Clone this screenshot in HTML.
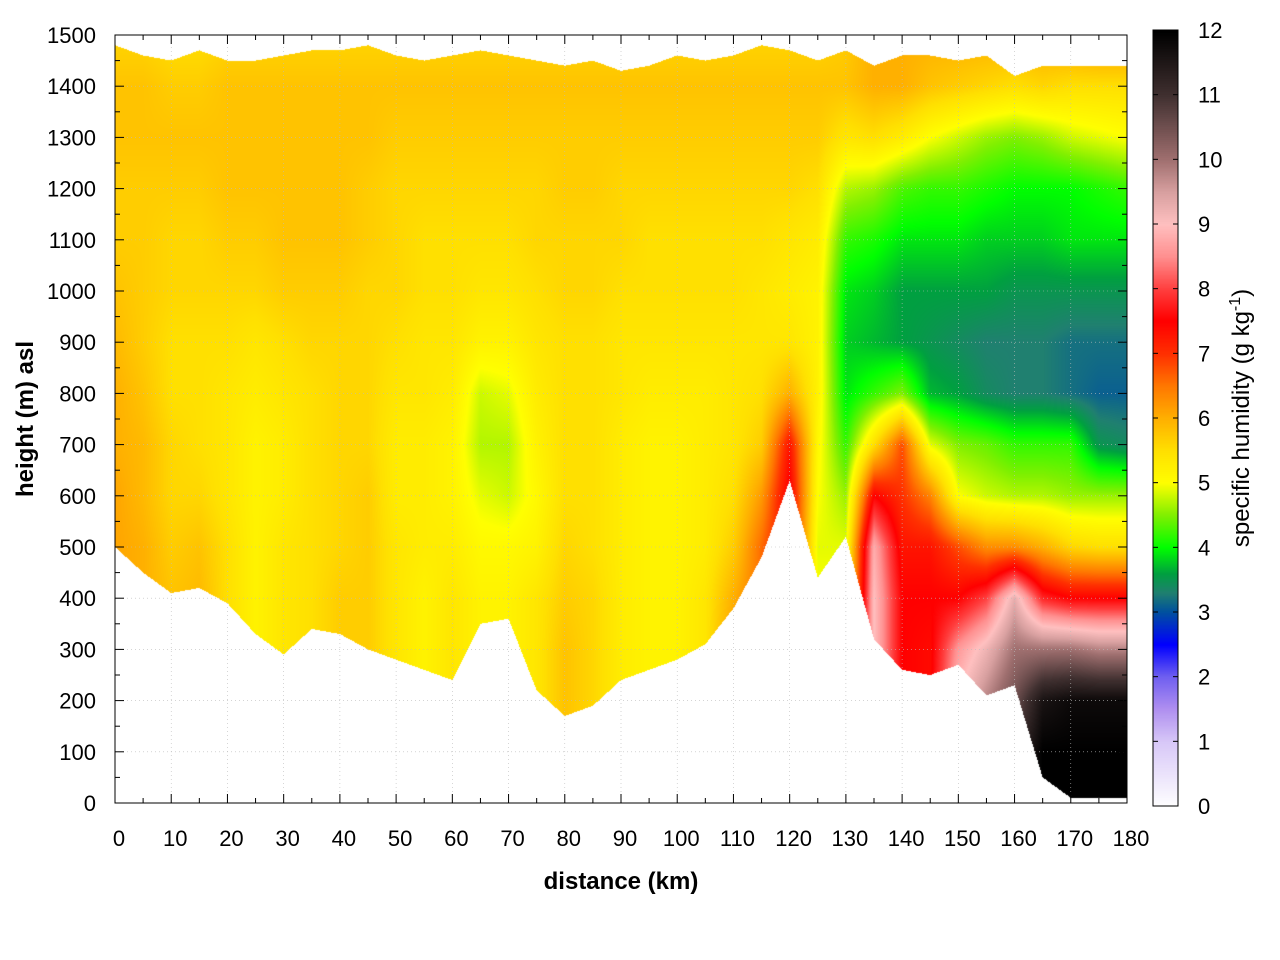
<!DOCTYPE html>
<html><head><meta charset="utf-8"><style>
body{margin:0;background:#fff;width:1280px;height:960px;overflow:hidden;position:relative;font-family:"Liberation Sans",sans-serif}
canvas{position:absolute}
svg{position:absolute;left:0;top:0}
</style></head><body>
<canvas id="hm" width="1012" height="768" style="left:115px;top:35px"></canvas>
<canvas id="cb" width="25" height="776" style="left:1153px;top:30px"></canvas>
<svg id="ax" width="1280" height="960"></svg>
<script>
// distance columns every 5 km
const distances=[0,5,10,15,20,25,30,35,40,45,50,55,60,65,70,75,80,85,90,95,100,105,110,115,120,125,130,135,140,145,150,155,160,165,170,175,180];
const heights=[0,100,200,300,400,500,600,700,800,900,1000,1100,1200,1300,1400,1500];
const terrain=[500,450,410,420,390,330,290,340,330,300,280,260,240,350,360,220,170,190,240,260,280,310,380,480,630,440,520,320,260,250,270,210,230,50,10,10,10];
const topEdge=[1480,1460,1450,1470,1450,1450,1460,1470,1470,1480,1460,1450,1460,1470,1460,1450,1440,1450,1430,1440,1460,1450,1460,1480,1470,1450,1470,1440,1460,1460,1450,1460,1420,1440,1440,1440,1440];
// humidity (g/kg) per column, from 0 m to 1500 m
const humidity=[
[6.1,6.1,6.1,6.1,6.1,6.1,6.1,6.0,6.0,5.9,5.8,5.7,5.7,5.8,5.8,5.6],
[6.0,6.0,6.0,6.0,6.0,6.0,5.9,5.9,5.8,5.7,5.7,5.7,5.7,5.8,5.8,5.6],
[5.8,5.8,5.8,5.8,5.8,5.7,5.6,5.6,5.5,5.5,5.6,5.6,5.7,5.8,5.7,5.5],
[5.9,5.9,5.9,5.9,5.9,5.8,5.6,5.5,5.5,5.5,5.6,5.6,5.7,5.8,5.7,5.5],
[5.5,5.5,5.5,5.5,5.5,5.5,5.4,5.4,5.4,5.5,5.6,5.7,5.8,5.8,5.8,5.6],
[5.2,5.2,5.2,5.2,5.2,5.2,5.2,5.2,5.3,5.4,5.6,5.7,5.8,5.8,5.8,5.6],
[5.4,5.4,5.4,5.4,5.4,5.4,5.3,5.3,5.4,5.5,5.7,5.8,5.8,5.8,5.8,5.6],
[5.5,5.5,5.5,5.5,5.5,5.5,5.5,5.5,5.5,5.6,5.7,5.8,5.8,5.8,5.8,5.6],
[5.7,5.7,5.7,5.7,5.7,5.6,5.6,5.6,5.6,5.6,5.7,5.8,5.8,5.8,5.8,5.6],
[5.7,5.7,5.7,5.7,5.7,5.7,5.7,5.6,5.6,5.6,5.6,5.7,5.7,5.8,5.8,5.6],
[5.4,5.4,5.4,5.4,5.4,5.4,5.3,5.3,5.4,5.5,5.6,5.6,5.6,5.7,5.8,5.6],
[5.2,5.2,5.2,5.2,5.2,5.3,5.3,5.3,5.4,5.4,5.5,5.5,5.6,5.7,5.8,5.6],
[5.4,5.4,5.4,5.4,5.4,5.3,5.2,5.2,5.3,5.4,5.5,5.5,5.6,5.7,5.8,5.6],
[5.2,5.2,5.2,5.2,5.2,5.1,4.9,4.7,4.8,5.2,5.4,5.5,5.6,5.7,5.8,5.6],
[5.2,5.2,5.2,5.2,5.2,5.1,4.8,4.7,4.9,5.2,5.4,5.5,5.6,5.7,5.8,5.6],
[5.4,5.4,5.4,5.4,5.4,5.2,5.1,5.2,5.3,5.4,5.5,5.6,5.6,5.7,5.8,5.6],
[5.8,5.8,5.8,5.8,5.7,5.6,5.5,5.5,5.5,5.5,5.6,5.6,5.7,5.7,5.8,5.6],
[5.6,5.6,5.6,5.6,5.6,5.5,5.5,5.5,5.5,5.5,5.6,5.6,5.7,5.7,5.8,5.6],
[5.3,5.3,5.3,5.3,5.3,5.3,5.3,5.3,5.4,5.4,5.5,5.6,5.6,5.7,5.8,5.6],
[5.2,5.2,5.2,5.2,5.2,5.2,5.2,5.2,5.3,5.4,5.5,5.5,5.6,5.7,5.8,5.6],
[5.2,5.2,5.2,5.2,5.2,5.2,5.2,5.2,5.3,5.4,5.5,5.5,5.6,5.7,5.8,5.6],
[5.4,5.4,5.4,5.4,5.4,5.3,5.3,5.3,5.3,5.4,5.5,5.5,5.6,5.7,5.8,5.6],
[6.2,6.2,6.2,6.2,6.0,5.7,5.5,5.4,5.4,5.4,5.5,5.5,5.6,5.7,5.8,5.6],
[6.6,6.6,6.6,6.6,6.6,6.6,6.2,5.7,5.5,5.4,5.4,5.5,5.6,5.7,5.8,5.6],
[7.5,7.5,7.5,7.5,7.5,7.5,7.6,7.3,6.0,5.4,5.3,5.4,5.6,5.7,5.8,5.6],
[5.0,5.0,5.0,5.0,5.0,4.9,5.0,5.1,5.2,5.2,5.2,5.3,5.5,5.7,5.8,5.6],
[5.0,5.0,5.0,5.0,5.0,4.9,4.6,4.2,3.9,3.8,3.9,4.2,4.7,5.4,5.8,5.7],
[8.8,8.8,8.8,9.0,9.0,8.8,7.5,5.5,4.2,3.7,3.8,4.1,4.6,5.5,6.0,6.0],
[7.5,7.5,7.5,7.5,7.5,7.3,7.0,6.8,4.5,3.6,3.6,3.9,4.3,5.3,6.0,6.0],
[7.4,7.4,7.4,7.4,7.5,7.3,6.4,4.9,3.7,3.5,3.6,3.9,4.2,5.0,5.8,6.0],
[9.0,9.0,9.0,8.6,7.5,6.8,5.0,4.5,3.6,3.4,3.6,3.9,4.2,4.8,5.7,6.0],
[10.0,10.0,9.8,9.2,8.0,6.3,4.8,4.4,3.4,3.3,3.6,3.8,4.1,4.6,5.6,6.0],
[11.0,11.0,10.5,10.0,9.3,6.3,4.7,4.2,3.3,3.3,3.5,3.8,4.0,4.5,5.5,6.0],
[12.0,12.0,11.6,10.0,7.8,6.0,4.7,4.2,3.3,3.3,3.5,3.8,4.0,4.6,5.6,6.1],
[12.0,12.0,11.8,10.0,7.5,5.6,4.6,4.2,3.2,3.2,3.5,3.9,4.0,4.8,5.5,6.2],
[12.0,12.0,11.8,9.8,7.5,5.5,4.6,3.5,3.1,3.2,3.5,3.9,4.1,4.9,5.5,6.3],
[12.0,12.0,11.8,9.8,7.5,5.5,4.6,3.4,3.1,3.2,3.5,3.9,4.2,5.0,5.5,6.3]];
const xTicks=[0,10,20,30,40,50,60,70,80,90,100,110,120,130,140,150,160,170,180];
const yTicks=[0,100,200,300,400,500,600,700,800,900,1000,1100,1200,1300,1400,1500];
const cbTicks=[0,1,2,3,4,5,6,7,8,9,10,11,12];

const stops=[[0,'#ffffff'],[1,'#d8c8f8'],[1.5,'#b090f0'],[2,'#7060f0'],[2.5,'#0000ff'],[3,'#0050a0'],[3.3,'#208070'],[3.6,'#00a040'],[4,'#00ff00'],[4.5,'#80f000'],[5,'#ffff00'],[5.5,'#ffe000'],[6,'#ffb000'],[6.5,'#ff7800'],[7,'#ff3000'],[7.5,'#ff0000'],[8,'#ff4040'],[8.5,'#ff9090'],[9,'#ffc0c0'],[9.5,'#d8a0a0'],[10,'#a07070'],[10.5,'#705050'],[11,'#403030'],[12,'#000000']];
const sRGB=stops.map(s=>[s[0],parseInt(s[1].slice(1,3),16),parseInt(s[1].slice(3,5),16),parseInt(s[1].slice(5,7),16)]);
function col(v){v=Math.max(0,Math.min(12,v));for(let i=1;i<sRGB.length;i++){if(v<=sRGB[i][0]){const a=sRGB[i-1],b=sRGB[i],t=(v-a[0])/(b[0]-a[0]);return [a[1]+(b[1]-a[1])*t,a[2]+(b[2]-a[2])*t,a[3]+(b[3]-a[3])*t];}}return [0,0,0];}
const X0=115,X1=1127,Y0=803,Y1=35;
const xs=d=>X0+d*(X1-X0)/180, ys=h=>Y0-h*(Y0-Y1)/1500;
function lerpArr(arr,d){const f=d/5,i=Math.min(35,Math.floor(f)),t=f-i;return arr[i]*(1-t)+arr[i+1]*t;}
// heatmap
const hm=document.getElementById('hm'),hc=hm.getContext('2d'),img=hc.createImageData(1012,768);
for(let px=0;px<1012;px++){const d=(px+0.5)/1012*180;const bot=lerpArr(terrain,d),top=lerpArr(topEdge,d);
 const f=d/5,i=Math.min(35,Math.floor(f)),t=f-i;
 for(let py=0;py<768;py++){const h=(768-py-0.5)/768*1500;if(h<bot||h>top)continue;
  const g=Math.min(14.999,h/100),j=Math.floor(g),u=g-j;
  const v=(humidity[i][j]*(1-u)+humidity[i][j+1]*u)*(1-t)+(humidity[i+1][j]*(1-u)+humidity[i+1][j+1]*u)*t;
  const c=col(v),k=(py*1012+px)*4;img.data[k]=c[0];img.data[k+1]=c[1];img.data[k+2]=c[2];img.data[k+3]=255;}}
hc.putImageData(img,0,0);
// colorbar
const cb=document.getElementById('cb'),cc=cb.getContext('2d');
for(let py=0;py<776;py++){const c=col((776-py)/776*12);cc.fillStyle=`rgb(${c[0]|0},${c[1]|0},${c[2]|0})`;cc.fillRect(0,py,25,1);}
// axes
const NS='http://www.w3.org/2000/svg',svg=document.getElementById('ax');
function mk(tag,at,txt){const e=document.createElementNS(NS,tag);for(const k in at)e.setAttribute(k,at[k]);if(txt!==undefined)e.textContent=txt;svg.appendChild(e);return e;}
xTicks.forEach(d=>{const x=xs(d);
 const g=mk('line',{x1:x,x2:x,y1:Y1,y2:Y0,stroke:'#bbb','stroke-width':0.6,'stroke-dasharray':'1,3'});
 
 mk('line',{x1:x,x2:x,y1:Y0,y2:Y0-9,stroke:'#000'});mk('line',{x1:x,x2:x,y1:Y1,y2:Y1+9,stroke:'#000'});
 const l=mk('text',{x:x+4,y:Y0+43,'font-size':22,'text-anchor':'middle'},String(d));
 });
xTicks.slice(0,-1).forEach(d=>{const x=xs(d+5);mk('line',{x1:x,x2:x,y1:Y0,y2:Y0-5,stroke:'#000'});mk('line',{x1:x,x2:x,y1:Y1,y2:Y1+5,stroke:'#000'});});
yTicks.forEach(h=>{const y=ys(h);
 const g=mk('line',{x1:X0,x2:X1,y1:y,y2:y,stroke:'#bbb','stroke-width':0.6,'stroke-dasharray':'1,3'});
 
 mk('line',{x1:X0,x2:X0+9,y1:y,y2:y,stroke:'#000'});mk('line',{x1:X1,x2:X1-9,y1:y,y2:y,stroke:'#000'});
 const l=mk('text',{x:96,y:y+8,'font-size':22,'text-anchor':'end'},String(h));
 });
yTicks.slice(0,-1).forEach(h=>{const y=ys(h+50);mk('line',{x1:X0,x2:X0+5,y1:y,y2:y,stroke:'#000'});mk('line',{x1:X1,x2:X1-5,y1:y,y2:y,stroke:'#000'});});
const fr=mk('rect',{x:X0,y:Y1,width:X1-X0,height:Y0-Y1,fill:'none',stroke:'#000'});

const cbf=mk('rect',{x:1153,y:30,width:25,height:776,fill:'none',stroke:'#000'});

cbTicks.forEach(v=>{const y=806-v*776/12;
 mk('line',{x1:1153,x2:1158,y1:y,y2:y,stroke:'#000'});mk('line',{x1:1178,x2:1173,y1:y,y2:y,stroke:'#000'});
 const l=mk('text',{x:1198,y:y+8,'font-size':22},String(v));
 });
const xt=mk('text',{x:621,y:889,'font-size':24,'font-weight':'bold','text-anchor':'middle'},'distance (km)');

const yt=mk('text',{x:0,y:0,'font-size':24,'font-weight':'bold','text-anchor':'middle',transform:'translate(33,419) rotate(-90)'},'height (m) asl');

const ct=mk('text',{x:0,y:0,'font-size':24,'text-anchor':'middle',transform:'translate(1249,418) rotate(-90)'});

ct.innerHTML='specific humidity (g kg<tspan dy="-9" font-size="16">-1</tspan><tspan dy="9">)</tspan>';
</script>
</body></html>
